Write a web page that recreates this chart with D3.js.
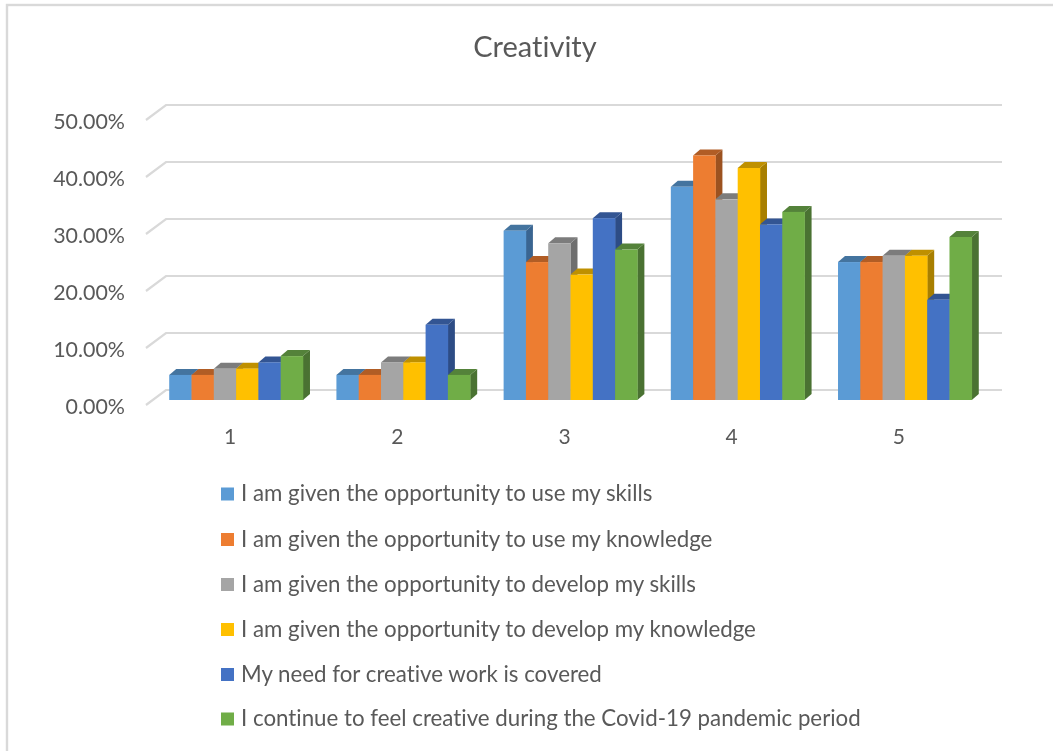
<!DOCTYPE html>
<html><head><meta charset="utf-8">
<script src="https://cdn.jsdelivr.net/npm/d3@7/dist/d3.min.js"></script>
<style>html,body{margin:0;padding:0;background:#fff}svg{display:block;filter:blur(0.55px)}text{font-family:Lato,"Noto Sans",sans-serif;font-variant-ligatures:none}</style>
</head><body><div id="c"></div>
<script>
const categories=["1","2","3","4","5"];
const seriesNames=["I am given the opportunity to use my skills","I am given the opportunity to use my knowledge","I am given the opportunity to develop my skills","I am given the opportunity to develop my knowledge","My need for creative work is covered","I continue to feel creative during the Covid-19 pandemic period"];
const s1=[4.4,4.4,29.7,37.4,24.2];
const s2=[4.4,4.4,24.2,42.9,24.2];
const s3=[5.5,6.6,27.5,35.2,25.3];
const s4=[5.5,6.6,22.0,40.7,25.3];
const s5=[6.6,13.2,31.9,30.8,17.6];
const s6=[7.7,4.4,26.4,33.0,28.6];
const seriesValues=[s1,s2,s3,s4,s5,s6];
const colors=["#5B9BD5","#ED7D31","#A5A5A5","#FFC000","#4472C4","#70AD47"];
const topColors=["#44749F","#B15D25","#7C7C7C","#BF9000","#335593","#54823A"];
const sideColors=["#3A6591","#9C5220","#6E6E6E","#A87F00","#2D4C85","#4A7232"];
const yTicks=[0,10,20,30,40,50];

const W=1053,H=751;
const svg=d3.select("#c").append("svg").attr("width",W).attr("height",H);
svg.append("rect").attr("x",7).attr("y",5).attr("width",1060).attr("height",800).attr("fill","#fff").attr("stroke","#d9d9d9").attr("stroke-width",2.4);

const y=d3.scaleLinear().domain([0,50]).range([400,115]);
const x0=d3.scaleBand().domain(categories).range([152.5,988.5]).paddingInner(0.2).paddingOuter(0.1);
const x1=d3.scaleBand().domain(d3.range(6)).range([0,x0.bandwidth()]);

svg.append("text").attr("x",535).attr("y",57).attr("text-anchor","middle").attr("font-size",29).attr("fill","#595959").text("Creativity");

const grid=svg.append("g");
yTicks.forEach(t=>{
  grid.append("path").attr("fill","none").attr("stroke","#d9d9d9").attr("stroke-width",2.2)
    .attr("d",d3.line()([[146,y(t)+5],[166,y(t)-10],[1002,y(t)-10]]));
});
const yAxis=svg.append("g").attr("transform","translate(125,0)")
  .call(d3.axisLeft(y).tickValues(yTicks).tickSize(0).tickPadding(0).tickFormat(d=>d.toFixed(2)+"%"));
yAxis.select(".domain").remove();
yAxis.selectAll("text").attr("font-size",21.4).attr("fill","#595959").attr("font-family","Lato").attr("dy","0.32em").attr("transform","translate(0,6.5)");

const xAxis=svg.append("g").attr("transform","translate(-6,0)");
categories.forEach(c=>{
  xAxis.append("text").attr("x",x0(c)+x0.bandwidth()/2).attr("y",444).attr("text-anchor","middle").attr("font-size",21).attr("fill","#595959").text(c);
});

const dx=7,dy=6;
categories.forEach((c,ci)=>{
  const g=svg.append("g").attr("transform",`translate(${x0(c)},0)`);
  seriesValues.forEach((vals,si)=>{
    const xa=x1(si),xb=xa+x1.bandwidth(),yt=y(vals[ci]),yb=y(0);
    g.append("path").attr("fill",sideColors[si]).attr("d",d3.line()([[xb,yb],[xb+dx,yb-dy],[xb+dx,yt-dy],[xb,yt]])+"Z");
    g.append("path").attr("fill",topColors[si]).attr("d",d3.line()([[xa,yt],[xa+dx,yt-dy],[xb+dx,yt-dy],[xb,yt]])+"Z");
  });
  seriesValues.forEach((vals,si)=>{
    const xa=x1(si),yt=y(vals[ci]),yb=y(0);
    g.append("rect").attr("x",xa).attr("y",yt).attr("width",x1.bandwidth()+0.3).attr("height",yb-yt).attr("fill",colors[si]);
  });
});

const legendYs=[493.5,539,584,629,674,718.5];
const lg=svg.append("g");
seriesNames.forEach((n,i)=>{
  lg.append("rect").attr("x",221).attr("y",legendYs[i]-6).attr("width",13).attr("height",13).attr("fill",colors[i]);
  lg.append("text").attr("x",241).attr("y",legendYs[i]+7.5).attr("font-size",22.3).attr("fill","#595959").text(n);
});
</script></body></html>
